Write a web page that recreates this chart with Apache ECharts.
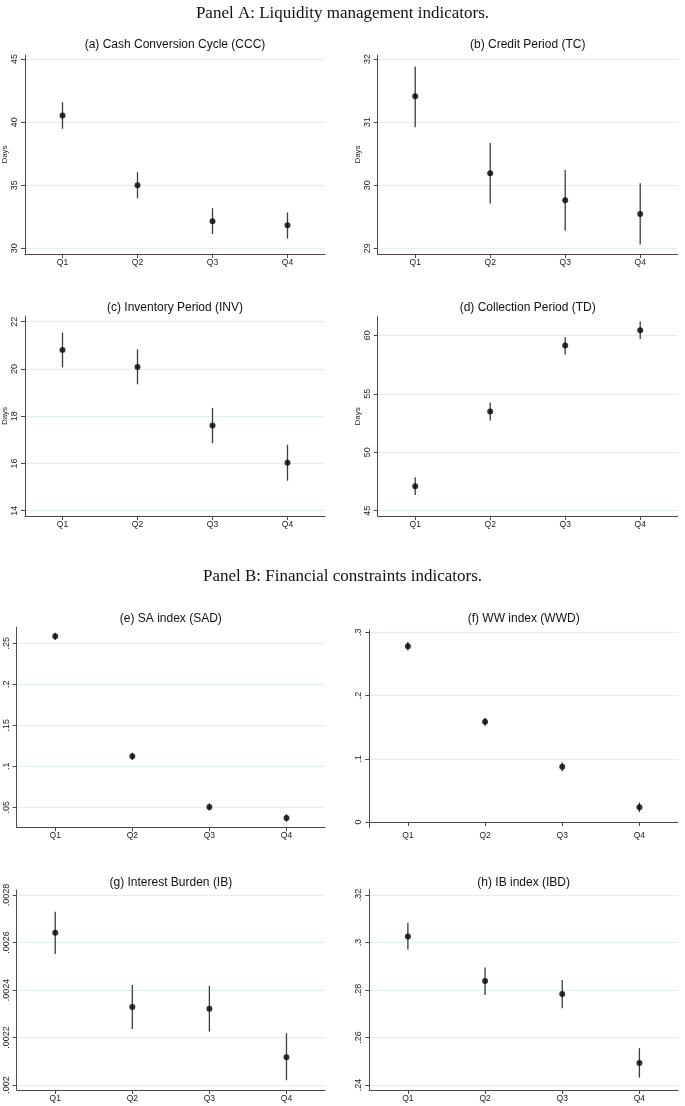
<!DOCTYPE html>
<html><head><meta charset="utf-8">
<script src="https://cdn.jsdelivr.net/npm/echarts@6/dist/echarts.min.js"></script>
<style>html,body{margin:0;padding:0;background:#fff}#c{width:685px;height:1106px}</style>
</head><body><div id="c"></div>
<script>
// ---------- data ----------
const categories = ['Q1', 'Q2', 'Q3', 'Q4'];
const sectionTitles = ['Panel A: Liquidity management indicators.', 'Panel B: Financial constraints indicators.'];
const panelTitles = ['(a) Cash Conversion Cycle (CCC)', '(b) Credit Period (TC)', '(c) Inventory Period (INV)', '(d) Collection Period (TD)',
  '(e) SA index (SAD)', '(f) WW index (WWD)', '(g) Interest Burden (IB)', '(h) IB index (IBD)'];
const yNames = ['Days', 'Days', 'Days', 'Days', '', '', '', ''];

const cccEst = [40.53, 35.00, 32.15, 31.83];
const cccLo  = [39.47, 33.97, 31.13, 30.78];
const cccHi  = [41.58, 36.03, 33.18, 32.84];
const cccTicks = [30, 35, 40, 45];

const tcEst = [31.41, 30.19, 29.76, 29.545];
const tcLo  = [30.92, 29.71, 29.28, 29.06];
const tcHi  = [31.88, 30.67, 30.24, 30.03];
const tcTicks = [29, 30, 31, 32];

const invEst = [20.80, 20.08, 17.61, 16.03];
const invLo  = [20.06, 19.35, 16.86, 15.27];
const invHi  = [21.54, 20.83, 18.35, 16.79];
const invTicks = [14, 16, 18, 20, 22];

const tdEst = [47.09, 53.49, 59.12, 60.43];
const tdLo  = [46.35, 52.72, 58.35, 59.69];
const tdHi  = [47.86, 54.23, 59.83, 61.17];
const tdTicks = [45, 50, 55, 60];

const sadEst = [0.2585, 0.1122, 0.0504, 0.0370];
const sadLo  = [0.2540, 0.1078, 0.0460, 0.0325];
const sadHi  = [0.2630, 0.1166, 0.0548, 0.0415];
const sadTicks = [0.05, 0.1, 0.15, 0.2, 0.25];

const wwdEst = [0.2779, 0.1584, 0.0873, 0.0232];
const wwdLo  = [0.2713, 0.1518, 0.0803, 0.0156];
const wwdHi  = [0.2845, 0.1650, 0.0943, 0.0308];
const wwdTicks = [0, 0.1, 0.2, 0.3];

const ibEst = [0.002641, 0.002328, 0.002321, 0.002117];
const ibLo  = [0.002552, 0.002236, 0.002225, 0.002020];
const ibHi  = [0.002729, 0.002421, 0.002417, 0.002218];
const ibTicks = [0.002, 0.0022, 0.0024, 0.0026, 0.0028];

const ibdEst = [0.3025, 0.2838, 0.2783, 0.2493];
const ibdLo  = [0.2971, 0.2779, 0.2723, 0.2431];
const ibdHi  = [0.3083, 0.2895, 0.2842, 0.2555];
const ibdTicks = [0.24, 0.26, 0.28, 0.30, 0.32];

// axis ranges (with the small padding the original plot adds)
const yMin = [29.55, 28.91, 13.776, 44.55, 0.0256, -0.0084, 0.001979, 0.2379];
const yMax = [45.32, 32.063, 22.24, 61.59, 0.2695, 0.3036, 0.002821, 0.3221];

const estimates = [cccEst, tcEst, invEst, tdEst, sadEst, wwdEst, ibEst, ibdEst];
const lowers = [cccLo, tcLo, invLo, tdLo, sadLo, wwdLo, ibLo, ibdLo];
const uppers = [cccHi, tcHi, invHi, tdHi, sadHi, wwdHi, ibHi, ibdHi];
const ticks = [cccTicks, tcTicks, invTicks, tdTicks, sadTicks, wwdTicks, ibTicks, ibdTicks];

// ---------- layout ----------
const grids = [
  {left: 25, top: 55, width: 300, height: 199},
  {left: 377.7, top: 55, width: 300, height: 199},
  {left: 25, top: 316, width: 300, height: 200},
  {left: 377.7, top: 316.7, width: 300, height: 199.3},
  {left: 16.7, top: 627.3, width: 308.3, height: 200},
  {left: 369.3, top: 630, width: 308.7, height: 197.3},
  {left: 16.7, top: 890, width: 308.3, height: 200},
  {left: 369.3, top: 890, width: 308.7, height: 200}
];
const titleY = [46, 46, 309, 309, 620, 620, 883.3, 883.3];

const SANS = '"Liberation Sans", Arial, sans-serif';
const SERIF = '"Liberation Serif", "DejaVu Serif", serif';
const axisColor = '#4a4a4a';
const fmt = v => { let s = String(+(+v).toPrecision(6)); return s.replace(/^0\./, '.').replace(/^-0\./, '-.'); };

const title = [
  {text: sectionTitles[0], left: 342.5, top: 5, textAlign: 'center', padding: 0,
   textStyle: {fontFamily: SERIF, fontSize: 17, fontWeight: 'normal', color: '#111'}},
  {text: sectionTitles[1], left: 342.5, top: 568, textAlign: 'center', padding: 0,
   textStyle: {fontFamily: SERIF, fontSize: 17, fontWeight: 'normal', color: '#111'}}
];
const grid = [], xAxis = [], yAxis = [], series = [];
grids.forEach((g, i) => {
  title.push({text: panelTitles[i], left: g.left + g.width / 2, top: titleY[i] - 7, textAlign: 'center', padding: 0,
    textStyle: {fontFamily: SANS, fontSize: 12, fontWeight: 'normal', color: '#111'}});
  grid.push(Object.assign({containLabel: false}, g));
  xAxis.push({type: 'category', gridIndex: i, data: categories, boundaryGap: true,
    axisLine: {lineStyle: {color: axisColor, width: 1}},
    axisTick: {show: true, alignWithLabel: true, length: 4, lineStyle: {color: axisColor}},
    axisLabel: {fontFamily: SANS, fontSize: 8.5, color: '#222', margin: 4},
    splitLine: {show: false}});
  yAxis.push({type: 'value', gridIndex: i, min: yMin[i], max: yMax[i],
    name: yNames[i], nameLocation: 'middle', nameRotate: 90, nameGap: 12,
    nameTextStyle: {fontFamily: SANS, fontSize: 8, color: '#222'},
    axisLine: {show: true, lineStyle: {color: axisColor, width: 1}},
    axisTick: {show: true, length: 4, customValues: ticks[i], lineStyle: {color: axisColor}},
    axisLabel: {customValues: ticks[i], rotate: 90, fontFamily: SANS, fontSize: 9, color: '#222', margin: 6, formatter: fmt},
    splitLine: {show: true, lineStyle: {color: '#e4eef0', width: 1}}});
  series.push({type: 'custom', xAxisIndex: i, yAxisIndex: i,
    data: categories.map((c, k) => [k, lowers[i][k], uppers[i][k]]),
    encode: {x: 0, y: [1, 2]},
    renderItem: (params, api) => {
      const x = api.value(0);
      const p1 = api.coord([x, api.value(1)]);
      const p2 = api.coord([x, api.value(2)]);
      return {type: 'line', shape: {x1: p1[0], y1: p1[1], x2: p2[0], y2: p2[1]},
        style: {stroke: '#3c3c3c', lineWidth: 1.3}};
    }, silent: true, z: 2});
  series.push({type: 'scatter', xAxisIndex: i, yAxisIndex: i,
    data: categories.map((c, k) => [c, estimates[i][k]]),
    symbol: 'circle', symbolSize: 6, itemStyle: {color: '#000'}, silent: true, z: 3});
});

const chart = echarts.init(document.getElementById('c'), null, {renderer: 'canvas'});
chart.setOption({animation: false, backgroundColor: '#fff', title, grid, xAxis, yAxis, series});
</script>
</body></html>
